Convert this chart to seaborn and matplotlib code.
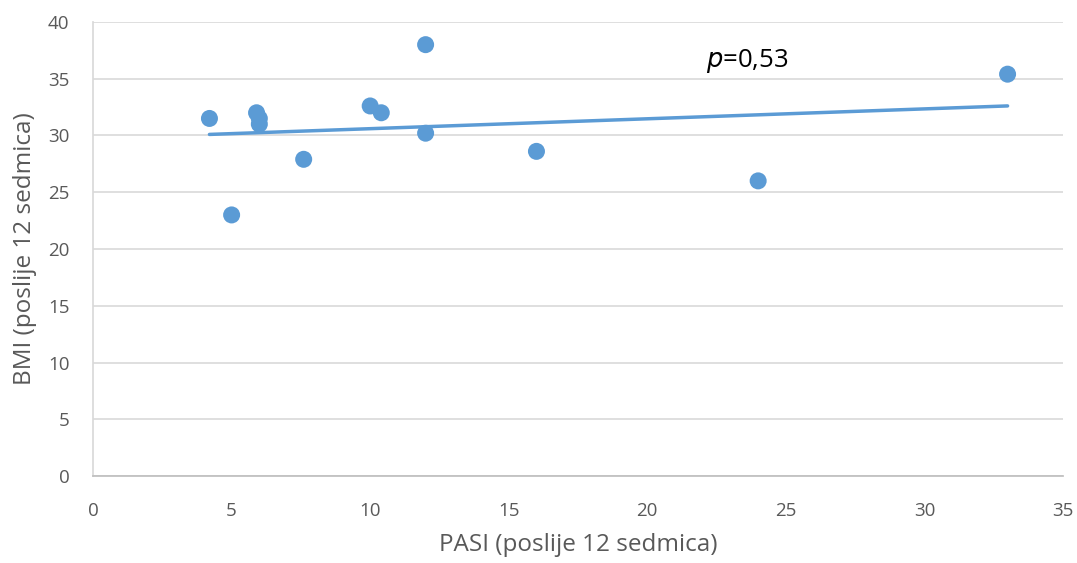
import numpy as np
import pandas as pd
import matplotlib
matplotlib.use("Agg")
import matplotlib.pyplot as plt
import seaborn as sns

# PASI vs BMI after 12 weeks
pasi = [4.2, 5.0, 5.9, 6.0, 6.0, 7.6, 10.0, 10.4, 12.0, 12.0, 16.0, 24.0, 33.0]
bmi = [31.5, 23.0, 32.0, 31.5, 31.0, 27.9, 32.6, 32.0, 38.0, 30.2, 28.6, 26.0, 35.4]
x_ticks = [0, 5, 10, 15, 20, 25, 30, 35]
y_ticks = [0, 5, 10, 15, 20, 25, 30, 35, 40]
p_label = "$\\it{p}$=0,53"

df = pd.DataFrame({"PASI": pasi, "BMI": bmi})

sns.set_theme(style="white")
plt.rcParams['font.family'] = ['Open Sans', 'DejaVu Sans']

fig = plt.figure(figsize=(10.77, 5.63), dpi=100)
ax = fig.add_axes([0.0864, 0.1545, 0.9006, 0.8065])

blue = "#5B9BD5"
grey = "#595959"

# linear trendline over the data range
k, b = np.polyfit(df["PASI"], df["BMI"], 1)
xs = np.array([df["PASI"].min(), df["PASI"].max()])
sns.lineplot(x=xs, y=k * xs + b, ax=ax, color=blue, linewidth=2.5)

sns.scatterplot(data=df, x="PASI", y="BMI", ax=ax, color=blue, s=150,
                edgecolor="none", zorder=3)

ax.set_xlim(0, 35)
ax.set_ylim(0, 40)
ax.set_xticks(x_ticks)
ax.set_yticks(y_ticks)
ax.yaxis.grid(True, color="#D9D9D9", linewidth=1.2)
ax.set_axisbelow(True)
for side in ["top", "right"]:
    ax.spines[side].set_visible(False)
ax.spines["bottom"].set_color("#BFBFBF")
ax.spines["left"].set_color("#D9D9D9")
ax.tick_params(axis="x", colors=grey, labelsize=13.5, length=0, pad=19)
ax.tick_params(axis="y", colors=grey, labelsize=13.5, length=0, pad=17)

ax.set_xlabel("PASI (poslije 12 sedmica)", color=grey, fontsize=17.5, labelpad=9)
ax.set_ylabel("BMI (poslije 12 sedmica)", color=grey, fontsize=17.5, labelpad=8)

ax.text(22.1, 36.6, p_label, fontsize=18.5, color="black", va="center", ha="left")

fig.savefig("out.png", dpi=100)
